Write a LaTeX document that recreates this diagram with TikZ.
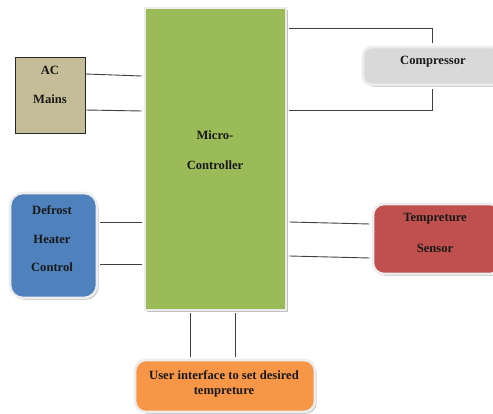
\documentclass[tikz,border=0pt]{standalone}
\usepackage{fontspec}
\setmainfont{Liberation Serif}
\usetikzlibrary{shadows,calc}
\definecolor{mcgreen}{HTML}{9BBB59}
\definecolor{actan}{HTML}{C4BD97}
\definecolor{compgray}{HTML}{D9D9D9}
\definecolor{defblue}{HTML}{4F81BD}
\definecolor{tempred}{HTML}{C0504D}
\definecolor{uiorange}{HTML}{F79646}
\definecolor{wire}{HTML}{404040}
\begin{document}
\begin{tikzpicture}[x=1pt,y=-1pt,
  txt/.style={font=\bfseries\fontsize{12.6}{15}\selectfont, text=black!90, inner sep=0pt, anchor=center},
  framed/.style={draw=black!7, line width=2.6pt, drop shadow={shadow xshift=1.6pt, shadow yshift=-1.8pt, fill=black!40, opacity=0.6}},
  roundbox/.style={framed, rounded corners=11pt, inner sep=0pt},
  wireline/.style={draw=wire, line width=0.9pt}]
\useasboundingbox (0,0) rectangle (493,414);
% Micro-controller
\node[framed, fill=mcgreen, minimum width=141pt, minimum height=302pt, inner sep=0pt, draw=black!8] (mc) at (215.5,159) {};
\node[txt] (mct1) at (215,135) {Micro-};
\node[txt] (mct2) at (215,165) {Controller};
% AC mains
\node[draw=black!85, line width=0.9pt, fill=actan, minimum width=70pt, minimum height=76pt, inner sep=0pt] (ac) at (50,95) {};
\node[txt] (act1) at (50,70) {AC};
\node[txt] (act2) at (50,99) {Mains};
% Compressor
\node[roundbox, fill=compgray, minimum width=138pt, minimum height=38pt, rounded corners=9pt] (comp) at (432,66) {};
\node[txt] (compt) at (433,62) {Compressor};
% Defrost
\node[roundbox, fill=defblue, minimum width=87pt, minimum height=105pt, rounded corners=13pt] (def) at (53.5,245.5) {};
\node[txt] (deft1) at (52,210) {Defrost};
\node[txt] (deft2) at (52,239) {Heater};
\node[txt] (deft3) at (52,267) {Control};
% Temperature sensor
\node[roundbox, fill=tempred, minimum width=128pt, minimum height=70pt] (temp) at (437,239) {};
\node[txt] (tempt1) at (435,219) {Tempreture};
\node[txt] (tempt2) at (435,248) {Sensor};
% User interface
\node[roundbox, fill=uiorange, minimum width=180pt, minimum height=52pt] (ui) at (225,386) {};
\node[txt] (uit1) at (224,375) {User interface to set desired};
\node[txt] (uit2) at (224,392) {tempreture};
% connectors
\draw[wireline] (ac.east |- 0,74) -- ($(mc.west |- 0,76)+(-2,0)$);
\draw[wireline] (ac.east |- 0,110) -- ($(mc.west |- 0,111)+(-2,0)$);
\draw[wireline] ($(mc.east |- 0,28)+(2,0)$) -| ($(comp.north)+(0,-3)$);
\draw[wireline] ($(mc.east |- 0,110)+(2,0)$) -| ($(comp.south)+(0,3)$);
\draw[wireline] ($(def.east |- 0,222)+(2,0)$) -- ($(mc.west |- 0,222)+(-2,0)$);
\draw[wireline] ($(def.east |- 0,264)+(2,0)$) -- ($(mc.west |- 0,264)+(-2,0)$);
\draw[wireline] ($(mc.east |- 0,222)+(2,0)$) -- ($(temp.west |- 0,224)+(-2,0)$);
\draw[wireline] ($(mc.east |- 0,256)+(2,0)$) -- ($(temp.west |- 0,258)+(-2,0)$);
\draw[wireline] ($(mc.south -| 190,0)+(0,2)$) -- ($(ui.north -| 190,0)+(0,-2)$);
\draw[wireline] ($(mc.south -| 235,0)+(0,2)$) -- ($(ui.north -| 235,0)+(0,-2)$);
\end{tikzpicture}
\end{document}
